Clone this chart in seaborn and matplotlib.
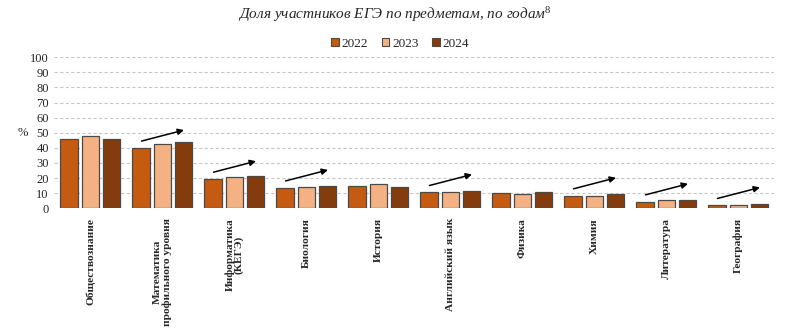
import matplotlib
matplotlib.use("Agg")
import matplotlib.pyplot as plt
import seaborn as sns
import pandas as pd
import numpy as np
from matplotlib.patches import Patch

subjects = ["Обществознание", "Математика\nпрофильного уровня", "Информатика\n(КЕГЭ)",
            "Биология", "История", "Английский язык", "Физика", "Химия",
            "Литература", "География"]
years = ["2022", "2023", "2024"]
v2022 = [46.0, 40.0, 19.4, 13.6, 14.8, 10.6, 10.1, 8.4, 4.4, 2.0]
v2023 = [47.8, 42.4, 20.7, 14.1, 16.1, 11.0, 9.7, 8.4, 5.3, 2.2]
v2024 = [45.7, 43.7, 21.6, 14.8, 14.1, 11.5, 10.6, 9.2, 5.5, 2.8]
trend_up = [False, True, True, True, False, True, False, True, True, True]
colors = ["#C55A11", "#F4B183", "#843C0C"]

sns.set_theme(style="white")
plt.rcParams["font.family"] = ["Liberation Serif", "DejaVu Serif"]
plt.rcParams["mathtext.fontset"] = "custom"
plt.rcParams["mathtext.it"] = "Liberation Serif:italic"
plt.rcParams["mathtext.rm"] = "Liberation Serif"

df = pd.DataFrame({
    "subject": subjects * 3,
    "year": [y for y in years for _ in subjects],
    "value": v2022 + v2023 + v2024,
})

fig = plt.figure(figsize=(8, 3.33), dpi=100)
ax = fig.add_axes([0.068, 0.3745, 0.9, 0.4535])

sns.barplot(data=df, x="subject", y="value", hue="year", order=subjects,
            hue_order=years, palette=colors, saturation=1, width=0.89, gap=0.2,
            edgecolor="#4a4a4a", linewidth=0.9, ax=ax, legend=False, zorder=3)

ax.set_ylim(0, 100)
ax.set_xlim(-0.5, len(subjects) - 0.5)
ax.set_yticks(np.arange(0, 101, 10))
for yv in range(10, 101, 10):
    ax.axhline(yv, color="#c8c8c8", lw=0.8, ls=(0, (3, 2)), zorder=0)
for s in ax.spines.values():
    s.set_visible(False)
ax.tick_params(axis="both", length=0, pad=4)
ax.tick_params(axis="y", labelsize=9, labelcolor="#262626")
ax.set_xlabel("")
ax.set_ylabel("")
ax.set_xticks(range(len(subjects)))
ax.set_xticklabels(subjects, rotation=90, fontsize=8.2, fontweight="bold",
                   va="top", ha="center", multialignment="center",
                   linespacing=1.0)
ax.tick_params(axis="x", pad=7)

for i, up in enumerate(trend_up):
    if up:
        start = v2022[i] + 4.5
        end = start + 7.3
        ax.annotate("", xy=(i + 0.30, end), xytext=(i - 0.29, start),
                    arrowprops=dict(arrowstyle="-|>", color="black", lw=1.1,
                                    mutation_scale=9, shrinkA=0, shrinkB=0),
                    zorder=5)

fig.text(0.494, 0.955, r"Доля участников ЕГЭ по предметам, по годам$^{\mathit{8}}$",
         ha="center", va="center", fontsize=11, style="italic")
fig.text(0.028, 1 - 133 / 333, "%", ha="center", va="center", fontsize=9,
         color="#262626")

handles = [Patch(facecolor=c, edgecolor="#4a4a4a", linewidth=0.8) for c in colors]
fig.legend(handles, years, loc="center", bbox_to_anchor=(0.5, 0.868), ncol=3,
           frameon=False, fontsize=9.5, handlelength=0.6, handleheight=0.6,
           handletextpad=0.2, columnspacing=1.0)

fig.savefig("out.png", dpi=100)
